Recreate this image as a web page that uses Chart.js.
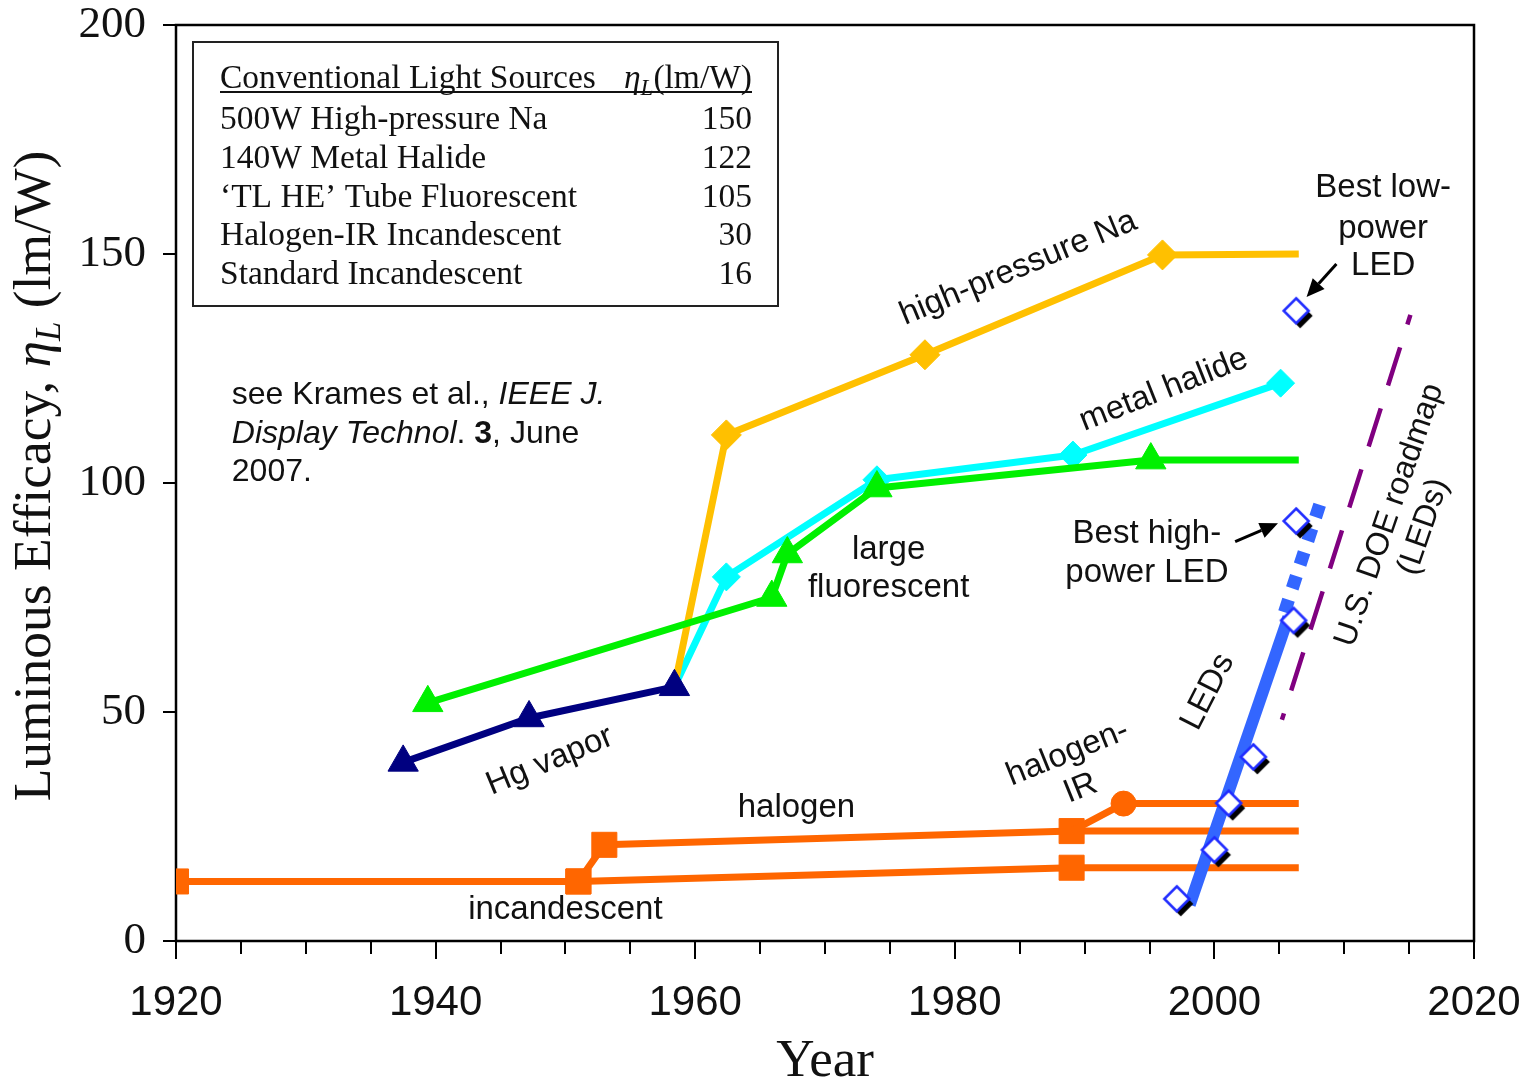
<!DOCTYPE html>
<html>
<head>
<meta charset="utf-8">
<title>Luminous efficacy of light sources</title>
<script src="https://cdn.jsdelivr.net/npm/chart.js@4.4.1/dist/chart.umd.min.js"></script>
<style>
  html, body { margin: 0; padding: 0; background: #fff; }
  #wrap { width: 1537px; height: 1078px; }
</style>
</head>
<body>
<div id="wrap"><canvas id="chart" width="1537" height="1078"></canvas></div>
<script>
// ---- Efficacy (lm/W) versus year for each lamp family ----
const incandescentYears  = [1920, 1951, 1989, 2006.5];
const incandescentValues = [13, 13, 16, 16];
const halogenYears       = [1951, 1953, 1989, 2006.5];
const halogenValues      = [13, 21, 24, 24];
const halogenIRYears     = [1989, 1993, 2006.5];
const halogenIRValues    = [24, 30, 30];
const hgVaporYears       = [1937.5, 1947.2, 1958.4];
const hgVaporValues      = [39, 48.7, 55.5];
const fluorescentYears   = [1939.4, 1965.9, 1967.1, 1974, 1995.1, 2006.5];
const fluorescentValues  = [52, 75, 84.5, 98.9, 105, 105];
const metalHalideYears   = [1958.4, 1962.4, 1974, 1989.1, 2005.1];
const metalHalideValues  = [55.5, 79.5, 100.7, 106.1, 121.8];
const sodiumYears        = [1958.4, 1962.4, 1977.7, 1996, 2006.5];
const sodiumValues       = [55.5, 110.5, 128, 149.8, 150];
const ledTrendYears      = [1998.1, 2005.7];
const ledTrendValues     = [7.9, 70.7];
const ledOutlookYears    = [2005.4, 2008.3];
const ledOutlookValues   = [71.8, 96.9];
const ledBestYears       = [1997.1, 2000.0, 2001.1, 2003.0, 2006.1, 2006.3, 2006.3];
const ledBestValues      = [9.2, 19.9, 30.1, 40.2, 70, 91.7, 137.6];
const doeRoadmapYears    = [2015.1, 2005.2];
const doeRoadmapValues   = [136.7, 48.3];

// ---- Axis tick values ----
const yearTickStep = 5;
const yearLabelStep = 20;
const efficacyTickStep = 50;

// ---- Reference table of conventional sources ----
const tableSources = ['500W High-pressure Na', '140W Metal Halide', '\u2018TL HE\u2019 Tube Fluorescent',
                      'Halogen-IR Incandescent', 'Standard Incandescent'];
const tableEfficacy = ['150', '122', '105', '30', '16'];

const SANS = '"Liberation Sans", Arial, Helvetica, sans-serif';
const SERIF = '"Liberation Serif", "Times New Roman", Times, serif';

const zip = (xs, ys) => xs.map((x, i) => ({ x, y: ys[i] }));

// open diamond with a dark drop shadow, used for the LED records
function ledMarker() {
  const c = document.createElement('canvas');
  c.width = 44; c.height = 44;
  const g = c.getContext('2d');
  const diamond = (cx, cy, r) => {
    g.beginPath();
    g.moveTo(cx, cy - r); g.lineTo(cx + r, cy); g.lineTo(cx, cy + r); g.lineTo(cx - r, cy);
    g.closePath();
  };
  g.fillStyle = '#000'; diamond(26, 27, 12.5); g.fill();
  g.fillStyle = '#fff'; diamond(22, 22, 12.5); g.fill();
  g.strokeStyle = '#1f2bff'; g.lineWidth = 2.5; diamond(22, 22, 12.5); g.stroke();
  return c;
}

// text placed in data coordinates: [text, year, efficacy, rotationDeg]
const curveLabels = [
  ['high-pressure Na', 1984.9, 146.9, -22.5],
  ['metal halide', 1996.1, 120.3, -21.5],
  ['large', 1974.9, 85.4, 0],
  ['fluorescent', 1974.9, 77.1, 0],
  ['Hg vapor', 1948.8, 39.3, -22.5],
  ['halogen', 1967.8, 29.0, 0],
  ['incandescent', 1950.0, 6.8, 0],
  ['halogen-', 1988.7, 41.0, -22],
  ['IR', 1989.7, 33.3, -22],
  ['LEDs', 1999.5, 54.4, -63],
  ['Best low-', 2013.0, 164.4, 0],
  ['power', 2013.0, 155.5, 0],
  ['LED', 2013.0, 147.4, 0],
  ['Best high-', 1994.8, 88.9, 0],
  ['power LED', 1994.8, 80.3, 0]
];
// arrows: [fromYear, fromValue, toYear, toValue]
const arrows = [
  [2009.4, 147.8, 2007.1, 140.6],
  [2001.6, 87.2, 2004.9, 91.2]
];

const overlay = {
  id: 'overlay',
  beforeDatasetsDraw(chart) {
    const { ctx, chartArea: a } = chart;
    ctx.save();
    ctx.strokeStyle = '#000';
    ctx.lineWidth = 2.5;
    ctx.strokeRect(a.left, a.top, a.right - a.left, a.bottom - a.top);

    // longer marks at the labelled years
    const sx = chart.scales.x;
    ctx.lineWidth = 2;
    for (let v = 1920; v <= 2020; v += yearLabelStep) {
      const p = Math.round(sx.getPixelForValue(v));
      ctx.beginPath(); ctx.moveTo(p, a.bottom); ctx.lineTo(p, a.bottom + 18); ctx.stroke();
    }

    // table box
    ctx.lineWidth = 2;
    ctx.strokeStyle = '#222';
    ctx.strokeRect(193, 42, 585, 264);
    ctx.fillStyle = '#111';
    ctx.textBaseline = 'alphabetic';
    const F = 33.5;
    ctx.font = `${F}px ${SERIF}`;
    ctx.textAlign = 'left';
    ctx.fillText('Conventional Light Sources', 220, 88);
    // header unit  ηL(lm/W), right aligned
    const unit = '(lm/W)';
    const wUnit = ctx.measureText(unit).width;
    ctx.font = `italic 23px ${SERIF}`;
    const wSub = ctx.measureText('L').width;
    ctx.font = `italic ${F}px ${SERIF}`;
    const wEta = ctx.measureText('\u03b7').width;
    const hx = 752 - wUnit - wSub - wEta;
    ctx.fillText('\u03b7', hx, 88);
    ctx.font = `italic 23px ${SERIF}`;
    ctx.fillText('L', hx + wEta, 95);
    ctx.font = `${F}px ${SERIF}`;
    ctx.fillText(unit, hx + wEta + wSub, 88);
    ctx.lineWidth = 2;
    ctx.strokeStyle = '#111';
    ctx.beginPath(); ctx.moveTo(220, 92); ctx.lineTo(752, 92); ctx.stroke();
    tableSources.forEach((s, i) => {
      const by = 129 + i * 38.8;
      ctx.textAlign = 'left';
      ctx.fillText(s, 220, by);
      ctx.textAlign = 'right';
      ctx.fillText(tableEfficacy[i], 752, by);
    });

    // citation
    ctx.textAlign = 'left';
    const cx = chart.scales.x.getPixelForValue(1924.3);
    const line = (parts, y) => {
      let x = cx;
      parts.forEach(([t, f]) => { ctx.font = `${f} 32px ${SANS}`; ctx.fillText(t, x, y); x += ctx.measureText(t).width; });
    };
    line([['see Krames et al., ', ''], ['IEEE J.', 'italic']], 404);
    line([['Display Technol', 'italic'], ['. ', ''], ['3', 'bold'], [', June', '']], 443);
    line([['2007.', '']], 481);

    // y-axis title with italic eta and subscript L
    ctx.save();
    ctx.translate(50, 476);
    ctx.rotate(-Math.PI / 2);
    const segs = [['Luminous Efficacy, ', `53.5px ${SERIF}`, 0], ['\u03b7', `italic 53.5px ${SERIF}`, 0],
                  ['L', `italic 35px ${SERIF}`, 10], [' (lm/W)', `53.5px ${SERIF}`, 0]];
    let total = 0;
    segs.forEach(([t, f]) => { ctx.font = f; total += ctx.measureText(t).width; });
    let tx = -total / 2;
    ctx.fillStyle = '#111';
    ctx.textAlign = 'left';
    segs.forEach(([t, f, dy]) => { ctx.font = f; ctx.fillText(t, tx, dy); tx += ctx.measureText(t).width; });
    ctx.restore();
    ctx.restore();
  },
  afterDatasetsDraw(chart) {
    const { ctx } = chart;
    const sx = chart.scales.x, sy = chart.scales.y;
    ctx.save();
    ctx.fillStyle = '#111';
    ctx.font = `33px ${SANS}`;
    ctx.textAlign = 'center';
    ctx.textBaseline = 'middle';
    curveLabels.forEach(([t, yr, v, rot]) => {
      ctx.save();
      ctx.translate(sx.getPixelForValue(yr), sy.getPixelForValue(v));
      ctx.rotate(rot * Math.PI / 180);
      ctx.fillText(t, 0, 0);
      ctx.restore();
    });
    // two-line roadmap caption
    ctx.save();
    ctx.font = `32px ${SANS}`;
    ctx.translate(sx.getPixelForValue(2014.8), sy.getPixelForValue(91.7));
    ctx.rotate(-71 * Math.PI / 180);
    ctx.fillText('U.S. DOE roadmap', 0, -18);
    ctx.fillText('(LEDs)', 0, 18);
    ctx.restore();

    // arrows
    ctx.strokeStyle = '#000';
    ctx.fillStyle = '#000';
    ctx.lineWidth = 3;
    arrows.forEach(([x0, y0, x1, y1]) => {
      const ax = sx.getPixelForValue(x0), ay = sy.getPixelForValue(y0);
      const bx = sx.getPixelForValue(x1), by = sy.getPixelForValue(y1);
      const ang = Math.atan2(by - ay, bx - ax);
      const L = 18, W = 8;
      const ex = bx - Math.cos(ang) * L, ey = by - Math.sin(ang) * L;
      ctx.beginPath(); ctx.moveTo(ax, ay); ctx.lineTo(ex, ey); ctx.stroke();
      ctx.beginPath();
      ctx.moveTo(bx, by);
      ctx.lineTo(ex - Math.sin(ang) * W, ey + Math.cos(ang) * W);
      ctx.lineTo(ex + Math.sin(ang) * W, ey - Math.cos(ang) * W);
      ctx.closePath(); ctx.fill();
    });
    ctx.restore();
  }
};

const line = (data, color, width, extra) => Object.assign({
  data, showLine: true, borderColor: color, backgroundColor: color,
  borderWidth: width, pointBackgroundColor: color, pointBorderColor: color,
  pointBorderWidth: 1, borderJoinStyle: 'round', tension: 0
}, extra);

const ORANGE = '#ff6600';
const datasets = [
  line(zip(ledBestYears, ledBestValues), 'rgba(0,0,0,0)', 0, { showLine: false, pointStyle: ledMarker(), pointRadius: 14 }),
  line(zip(ledTrendYears, ledTrendValues), '#3366ff', 12, { pointRadius: 0, borderCapStyle: 'butt' }),
  line(zip(ledOutlookYears, ledOutlookValues), '#3366ff', 13, { pointRadius: 0, borderDash: [13, 12], borderCapStyle: 'butt' }),
  line(zip(doeRoadmapYears, doeRoadmapValues), '#800080', 4.5, { pointRadius: 0, borderDash: [40, 24], borderDashOffset: 30, borderCapStyle: 'butt' }),
  line(zip(halogenIRYears, halogenIRValues), ORANGE, 7, { pointStyle: 'circle', pointRadius: [0, 12.5, 0] }),
  line(zip(halogenYears, halogenValues), ORANGE, 7, { pointStyle: 'rect', pointRadius: [17.7, 17.7, 17.7, 0] }),
  line(zip(incandescentYears, incandescentValues), ORANGE, 7, { pointStyle: 'rect', pointRadius: [17.7, 17.7, 17.7, 0] }),
  line(zip(hgVaporYears, hgVaporValues), '#000080', 7, { pointStyle: 'triangle', pointRadius: 17.5 }),
  line(zip(fluorescentYears, fluorescentValues), '#00f000', 7, { pointStyle: 'triangle', pointRadius: [17.5, 17.5, 17.5, 17.5, 17.5, 0] }),
  line(zip(sodiumYears, sodiumValues), '#ffc000', 7, { pointStyle: 'rectRot', pointRadius: [0, 15, 15, 15, 0] }),
  line(zip(metalHalideYears, metalHalideValues), '#00ffff', 7, { pointStyle: 'rectRot', pointRadius: [0, 14, 14, 14, 14] })
];

new Chart(document.getElementById('chart'), {
  type: 'scatter',
  data: { datasets },
  options: {
    responsive: false,
    animation: false,
    events: [],
    layout: { padding: { top: 25, right: 63, left: 0, bottom: 0 } },
    plugins: { legend: { display: false }, tooltip: { enabled: false } },
    scales: {
      x: {
        type: 'linear', min: 1920, max: 2020,
        afterFit(s) { s.height = 137; s.paddingLeft = 0; s.paddingRight = 0; },
        afterBuildTicks(s) {
          s.ticks = [];
          for (let v = 1920; v <= 2020; v += yearTickStep) s.ticks.push({ value: v });
        },
        ticks: {
          autoSkip: false, maxRotation: 0, color: '#111', padding: 24,
          font: { family: SANS, size: 42 },
          callback: v => (v % yearLabelStep === 0 ? String(v) : '')
        },
        grid: { drawOnChartArea: false, drawTicks: true, tickLength: 13, color: '#000', lineWidth: 2 },
        border: { display: false },
        title: { display: true, text: 'Year', color: '#111', font: { family: SERIF, size: 53 }, padding: { top: 0, bottom: -16 } }
      },
      y: {
        min: 0, max: 200,
        afterFit(s) { s.width = 176; s.paddingTop = 0; s.paddingBottom = 0; },
        ticks: { stepSize: efficacyTickStep, color: '#111', padding: 17, font: { family: SERIF, size: 45 } },
        grid: { drawOnChartArea: false, drawTicks: true, tickLength: 13, color: '#000', lineWidth: 2 },
        border: { display: false }
      }
    }
  },
  plugins: [overlay]
});
</script>
</body>
</html>
